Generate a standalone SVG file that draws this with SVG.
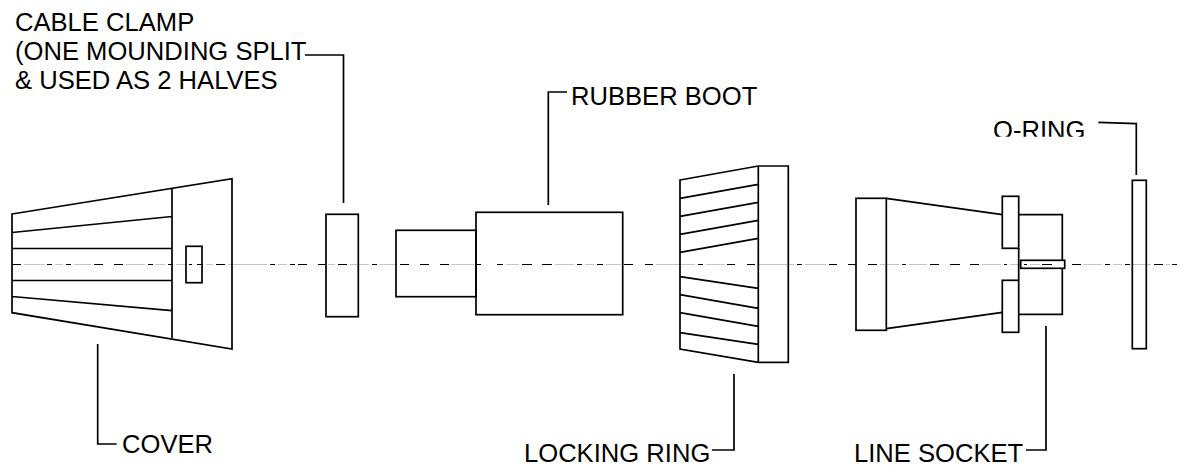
<svg xmlns="http://www.w3.org/2000/svg" width="1177" height="466" viewBox="0 0 1177 466">
<style>
.s{fill:none;stroke:#000;stroke-width:1.7}
.l{fill:none;stroke:#000;stroke-width:1.7}
.a{fill:none;stroke:#c4c4c4;stroke-width:1.2}
.b{fill:none;stroke:#000;stroke-width:1.2}
text{font-family:"Liberation Sans",Arial,sans-serif;font-size:25.6px;fill:#000}
</style>
<defs><clipPath id="oc"><rect x="980" y="110" width="120" height="26.7"/></clipPath></defs>
<rect width="1177" height="466" fill="#fff"/>
<g id="axis">
<path class="a" d="M24 264.5H44M55 264.5H63M74 264.5H91M126 264.5H145M156 264.5H165M176 264.5H186M206 264.5H213M228 264.5H267M278 264.5H287M328 264.5H335M350 264.5H369M380 264.5H397M452 264.5H474M506 264.5H519M555 264.5H574M585 264.5H594M606 264.5H621M656 264.5H695M706 264.5H724M758 264.5H794M805 264.5H826M880 264.5H899M909 264.5H927M982 264.5H1001M1010 264.5H1021M1030 264.5H1040M1084 264.5H1102M1113 264.5H1122M1133 264.5H1151M1166 264.5H1170"/>
<path class="b" d="M12 264.5H21M47 264.5H52M66 264.5H71M94 264.5H103M114 264.5H123M148 264.5H153M168 264.5H173M189 264.5H192M197 264.5H203M216 264.5H225M270 264.5H275M290 264.5H295M298 264.5H307M318 264.5H325M338 264.5H347M372 264.5H377M400 264.5H409M420 264.5H429M440 264.5H449M477 264.5H481M497 264.5H503M522 264.5H532M542 264.5H552M577 264.5H582M597 264.5H603M624 264.5H633M645 264.5H653M698 264.5H703M727 264.5H735M747 264.5H755M797 264.5H802M829 264.5H837M848 264.5H856M868 264.5H877M902 264.5H906M930 264.5H939M950 264.5H960M970 264.5H979M1004 264.5H1007M1024 264.5H1027M1042 264.5H1052M1072 264.5H1081M1105 264.5H1110M1125 264.5H1130M1154 264.5H1163M1172 264.5H1177"/>
</g>
<g id="cover">
<path class="s" d="M12 214L232 178.7V349L12 312.7ZM172 188V338M12 232.5L172 216.5M12 248.5H172M12 280.5H172M12 296.5L172 310.7"/>
<rect class="s" x="186" y="246.3" width="16" height="36.4"/>
<text x="122" y="453">COVER</text>
</g>
<g id="cable-clamp">
<rect class="s" x="326" y="214.3" width="32.3" height="102.4"/>
<text x="15" y="31">CABLE CLAMP</text>
<text x="15" y="60">(ONE MOUNDING SPLIT</text>
<text x="15" y="89">&amp; USED AS 2 HALVES</text>
</g>
<g id="rubber-boot">
<rect class="s" x="396" y="230.3" width="80" height="66.4"/>
<rect class="s" x="476" y="212.3" width="146.7" height="102.4"/>
<text x="571" y="105">RUBBER BOOT</text>
</g>
<g id="locking-ring">
<path class="s" d="M680 180L758.3 166H788.3V362.3H758.3L680 349ZM758.3 166V362.3M680 198.3L758.3 184.3M680 216.3L758.3 202.3M680 234.3L758.3 220.3M680 252.3L758.3 238.3M680 276.7L758.3 288.3M680 294.7L758.3 308.3M680 312.7L758.3 326.3M680 332.7L758.3 344.3"/>
<text x="524" y="462">LOCKING RING</text>
</g>
<g id="line-socket">
<rect class="s" x="856" y="198.3" width="30.3" height="132"/>
<path class="s" d="M886.3 198.3L1002.4 214.7M886.3 328.7L1002.4 312.3"/>
<rect class="s" x="1002.3" y="196.3" width="16.4" height="52"/>
<rect class="s" x="1002.3" y="280.3" width="16.4" height="52"/>
<path class="s" d="M1018.7 214.7H1062.3V260.3M1062.3 268.3V314.3H1018.7M1018.7 248.3V280.3"/>
<rect class="s" x="1020.7" y="260.3" width="44" height="8"/>
<text x="854" y="462">LINE SOCKET</text>
</g>
<g id="o-ring">
<rect class="s" x="1132.3" y="180.3" width="14" height="168.4"/>
<text x="993" y="138.5" clip-path="url(#oc)">O-RING</text>
</g>
<g id="connectors">
<path class="l" d="M305 55H343.5V203"/>
<path class="l" d="M548.3 205V92H567"/>
<path class="l" d="M97.7 344V444H116.7"/>
<path class="l" d="M734 374V450H712"/>
<path class="l" d="M1046 326V450H1026"/>
<path class="l" d="M1098.3 122.3L1136.3 123.6V175"/>
</g>
</svg>
